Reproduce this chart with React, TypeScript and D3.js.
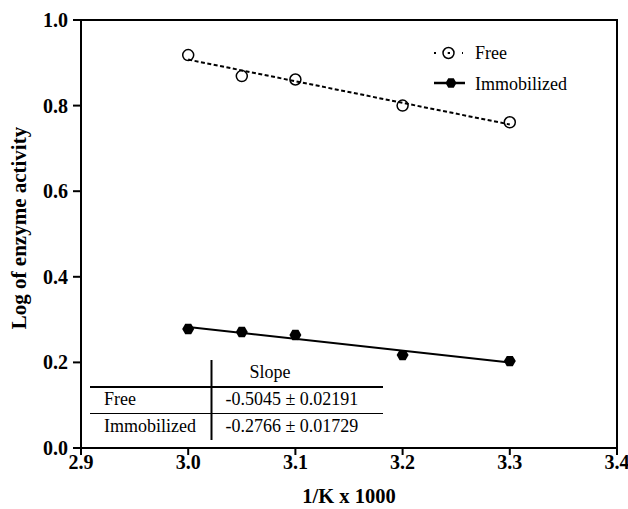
import React from "react";
import * as d3 from "d3";

const xValues = [3.0, 3.05, 3.1, 3.2, 3.3];
const freeValues = [0.918, 0.869, 0.861, 0.8, 0.761];
const immobilizedValues = [0.278, 0.271, 0.264, 0.217, 0.203];
const xTicks = [2.9, 3.0, 3.1, 3.2, 3.3, 3.4];
const yTicks = [0.0, 0.2, 0.4, 0.6, 0.8, 1.0];
const tableRows = [
  { name: "Free", slope: "-0.5045 ± 0.02191" },
  { name: "Immobilized", slope: "-0.2766 ± 0.01729" },
];

function fit(xs: number[], ys: number[]) {
  const mx = d3.mean(xs)!;
  const my = d3.mean(ys)!;
  let sxy = 0, sxx = 0;
  xs.forEach((x, i) => {
    sxy += (x - mx) * (ys[i] - my);
    sxx += (x - mx) * (x - mx);
  });
  const b = sxy / sxx;
  return (x: number) => my + b * (x - mx);
}

export default function App() {
  const W = 628, H = 509;
  const L = 81, R = 617, T = 20, B = 448;
  const x = d3.scaleLinear().domain([2.9, 3.4]).range([L, R]);
  const y = d3.scaleLinear().domain([0, 1]).range([B, T]);
  const font = "'Liberation Serif', 'Times New Roman', Times, serif";

  const fFree = fit(xValues, freeValues);
  const fImm = fit(xValues, immobilizedValues);
  const x0 = xValues[0], x1 = xValues[xValues.length - 1];
  const line = d3.line<[number, number]>().x(d => x(d[0])).y(d => y(d[1]));
  const freeLine = line([[x0, fFree(x0)], [x1, fFree(x1)]])!;
  const immLine = line([[x0, fImm(x0)], [x1, fImm(x1)]])!;

  const hex = (cx: number, cy: number, r: number) =>
    d3.range(6).map(i => {
      const a = (Math.PI / 3) * i;
      return `${cx + r * Math.cos(a)},${cy + r * Math.sin(a)}`;
    }).join(" ");

  return (
    <svg width={W} height={H} style={{ position: "absolute", left: 0, top: 0, background: "#fff", fontFamily: font }}>
      <rect x={0} y={0} width={W} height={H} fill="#fff" />
      {/* frame */}
      <rect x={L} y={T} width={R - L} height={B - T} fill="none" stroke="#000" strokeWidth={2} />
      {/* y ticks */}
      {yTicks.map(t => (
        <g key={"y" + t}>
          <line x1={L - 8} x2={L} y1={y(t)} y2={y(t)} stroke="#000" strokeWidth={2} />
          <text x={L - 13} y={y(t)} dy="0.35em" textAnchor="end" fontSize={20} fontWeight="bold">{t.toFixed(1)}</text>
        </g>
      ))}
      {xTicks.map(t => (
        <g key={"x" + t}>
          <line x1={x(t)} x2={x(t)} y1={B} y2={B + 7} stroke="#000" strokeWidth={2} />
          <text x={x(t)} y={B + 21} textAnchor="middle" fontSize={20} fontWeight="bold">{t.toFixed(1)}</text>
        </g>
      ))}
      <text transform={`translate(26,228) rotate(-90)`} textAnchor="middle" fontSize={21} fontWeight="bold">Log of enzyme activity</text>
      <text x={(L + R) / 2} y={503} textAnchor="middle" fontSize={20.5} fontWeight="bold">1/K x 1000</text>

      {/* fit lines */}
      <path d={freeLine} stroke="#000" strokeWidth={2} strokeDasharray="4,2.5" fill="none" />
      <path d={immLine} stroke="#000" strokeWidth={2} fill="none" />

      {/* points */}
      {xValues.map((v, i) => (
        <circle key={"f" + i} cx={x(v)} cy={y(freeValues[i])} r={5.5} fill="none" stroke="#000" strokeWidth={1.5} />
      ))}
      {xValues.map((v, i) => (
        <polygon key={"m" + i} points={hex(x(v), y(immobilizedValues[i]), 6)} fill="#000" />
      ))}

      {/* legend */}
      <g>
        <line x1={434} x2={463} y1={53} y2={53} stroke="#000" strokeWidth={2} strokeDasharray="2,12" />
        <circle cx={448.5} cy={53} r={5.5} fill="none" stroke="#000" strokeWidth={1.5} />
        <circle cx={448.5} cy={53} r={1} fill="#000" />
        <text x={475} y={59} fontSize={18}>Free</text>
        <line x1={434} x2={465} y1={83} y2={83} stroke="#000" strokeWidth={2.5} />
        <polygon points={hex(451, 83, 5.5)} fill="#000" />
        <text x={475} y={89.5} fontSize={18}>Immobilized</text>
      </g>

      {/* table */}
      <g fontSize={18}>
        <line x1={211.5} x2={211.5} y1={360} y2={440} stroke="#000" strokeWidth={2} />
        <line x1={90} x2={383} y1={387} y2={387} stroke="#000" strokeWidth={2} />
        <line x1={90} x2={383} y1={413.5} y2={413.5} stroke="#000" strokeWidth={1} />
        <text x={270} y={378} textAnchor="middle">Slope</text>
        {tableRows.map((r, i) => (
          <g key={r.name}>
            <text x={104} y={405 + i * 27}>{r.name}</text>
            <text x={225.5} y={405 + i * 27}>{r.slope}</text>
          </g>
        ))}
      </g>
    </svg>
  );
}
